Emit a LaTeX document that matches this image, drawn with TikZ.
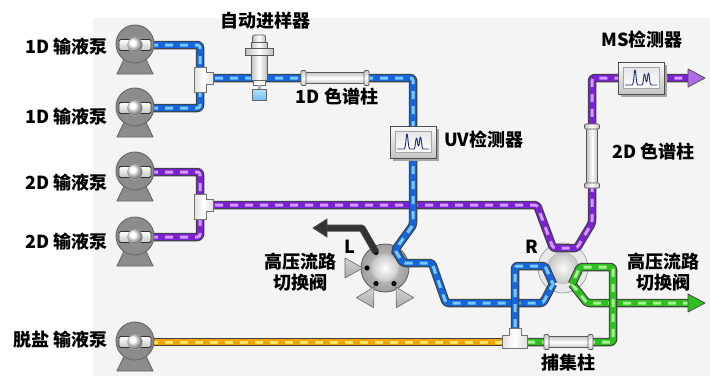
\documentclass[tikz,border=0pt]{standalone}
\usepackage{fontspec}
\setmainfont{Noto Sans CJK SC}
\usetikzlibrary{calc}

\definecolor{panel}{HTML}{F4F4F4}
\definecolor{bluedk}{HTML}{1466DC}
\definecolor{bluelt}{HTML}{7CC8FF}
\definecolor{purpdk}{HTML}{7A22D2}
\definecolor{purplt}{HTML}{D49CFF}
\definecolor{orgdk}{HTML}{F0A400}
\definecolor{orglt}{HTML}{FFE46A}
\definecolor{grndk}{HTML}{2EC01E}
\definecolor{grnlt}{HTML}{A6F294}
\definecolor{pumpgray}{HTML}{8C8C8C}
\definecolor{trace}{HTML}{1E2A78}
\definecolor{vialblue}{HTML}{6EC0F5}

\tikzset{
  tubeedge/.style={line width=8.5pt, draw=black!75, rounded corners=2.5pt, line join=round},
  tubecore/.style={line width=6.2pt, rounded corners=2.5pt, line join=round},
  tubedash/.style={line width=3pt, rounded corners=2.5pt, line join=round, dash pattern=on 8pt off 7pt},
  lbl/.style={font=\fontsize{18}{21}\selectfont\bfseries, inner sep=0pt, align=center},
  pumpbody/.style={fill=pumpgray, draw=black!60, line width=0.9pt},
  vmetal/.style={draw=black!65, line width=0.7pt, left color=gray!50, right color=gray!50, middle color=white},
  hmetal/.style={draw=black!65, line width=0.7pt, top color=gray!45, bottom color=gray!45, middle color=white},
  teestyle/.style={draw=black!55, line width=0.7pt, left color=gray!25, right color=gray!25, middle color=white},
  headstyle/.style={draw=black!70, line width=0.8pt, line join=round},
}

% a piece of tubing: dark rim, coloured core, light dashes
\newcommand\tubepath[3]{%
  \draw[tubeedge] #3;
  \draw[tubecore,draw=#1] #3;
  \draw[tubedash,draw=#2] #3;}

% pump: round head on a foot, with the rotor in the middle
\newcommand\pumpicon[1]{%
  \begin{scope}[shift={(#1)}]
    \draw[pumpbody] (-8,8) -- (-18,29) -- (18,29) -- (8,8) -- cycle;
    \draw[pumpbody] (0,-1) circle[radius=19];
    \draw[draw=black!80, line width=0.8pt, top color=white, bottom color=gray!45, rounded corners=1.5pt] (-16,-5.5) rectangle (16,5.5);
    \draw[draw=gray!60, line width=0.4pt, ball color=white] (0,0) circle[radius=7.5];
  \end{scope}}

% tee fitting with its branch to the right
\newcommand\teeright[1]{%
  \begin{scope}[shift={(#1)}]
    \draw[teestyle] (-6,-11) -- (6,-11) -- (6,-6) -- (13,-6) -- (13,6) -- (6,6) -- (6,14) -- (-6,14) -- cycle;
  \end{scope}}

% detector box with a chromatogram on its screen
\newcommand\detector[1]{%
  \begin{scope}[shift={(#1)}]
    \fill[black!35] (-20,-13) rectangle (26,19);
    \draw[draw=black!70, line width=1pt, top color=gray!5, bottom color=gray!45] (-23,-16) rectangle (23,16);
    \draw[draw=gray!70, line width=0.6pt, top color=gray!20, bottom color=white] (-18,-11) rectangle (18,10);
    \draw[trace, line width=0.9pt, line join=round]
      (-16,7) -- (-9,7) .. controls (-7,7) and (-7,-8) .. (-6,-8)
      .. controls (-5,-8) and (-5,7) .. (-3,7) -- (1,7)
      .. controls (2.5,7) and (2.5,-4) .. (3.5,-4)
      .. controls (4.5,-4) and (4.5,4) .. (5.5,4)
      .. controls (6.5,4) and (6.5,-5) .. (7.5,-5)
      .. controls (8.5,-5) and (8.5,7) .. (10,7) -- (16,7);
  \end{scope}}

\begin{document}
\begin{tikzpicture}[x=1pt, y=-1pt]
  \useasboundingbox (0,0) rectangle (710,376);
  \fill[white] (0,0) rectangle (710,376);
  \fill[panel] (93,18) rectangle (710,376);

  % positions
  \coordinate (p1) at (135,45);
  \coordinate (p2) at (135,108);
  \coordinate (p3) at (135,172);
  \coordinate (p4) at (135,237);
  \coordinate (p5) at (135,342);
  \coordinate (tee1) at (200,78);
  \coordinate (tee2) at (200,205);
  \coordinate (tee3) at (515,342);
  \coordinate (uv) at (413,142);
  \coordinate (ms) at (641,78);
  \coordinate (Lv) at (385,268);
  \coordinate (Rv) at (563,268);

  % switching valve L
  \draw[draw=black!65, line width=0.8pt, inner color=gray!40, outer color=gray!75] (Lv) circle[radius=24];
  \draw[draw=gray!55, line width=0.5pt, inner color=white, outer color=gray!45] (Lv) circle[radius=14];
  \foreach \a in {-60,-120,180,120,60}
    \fill[black] ($(Lv)+(\a:18)$) circle[radius=2.6];
  \foreach \tx/\ty/\ax/\ay/\bx/\by in {-22/0/-40/-10/-40/10, -11/19.05/-11.34/39.64/-28.66/29.64, 11/19.05/28.66/29.64/11.34/39.64}
    \draw[draw=black!60, line width=0.6pt, line join=round, top color=gray!35, bottom color=gray!65]
      ($(Lv)+(\tx,\ty)$) -- ($(Lv)+(\ax,\ay)$) -- ($(Lv)+(\bx,\by)$) -- cycle;
  % waste outlet of valve L
  \coordinate (Lout) at ($(Lv)+(-9,-15.6)$);
  \draw[line width=7pt, draw=black!75, line join=round] (Lout) -- (362,228) -- (326,228);
  \draw[line width=5pt, draw=gray!40!black, line join=round] (Lout) -- (362,228) -- (326,228);
  \draw[headstyle, fill=gray!40!black] (327,219) -- (313,228) -- (327,237) -- cycle;

  % switching valve R
  \draw[draw=gray!70, line width=0.8pt, fill=gray!18] (Rv) circle[radius=25];
  \draw[draw=gray!60, line width=0.5pt, inner color=gray!5, outer color=gray!45] (Rv) circle[radius=15.5];

  % 2D solvent line
  \tubepath{purpdk}{purplt}{($(p3)+(15,0)$) -| (tee2)}
  \tubepath{purpdk}{purplt}{($(p4)+(15,0)$) -| (tee2)}
  \tubepath{purpdk}{purplt}{(tee2) -- (537,205) -- (553,248) -- (577,248) -- (592,223) -- (592,78) -- (689,78)}
  \draw[headstyle, fill=purplt!60!purpdk] (688,69) -- (705,78) -- (688,87) -- cycle;

  % desalting line
  \tubepath{orgdk}{orglt}{($(p5)+(15,0)$) -- (tee3)}

  % 1D line
  \tubepath{bluedk}{bluelt}{($(p1)+(15,0)$) -| (tee1)}
  \tubepath{bluedk}{bluelt}{($(p2)+(15,0)$) -| (tee1)}
  \tubepath{bluedk}{bluelt}{(tee1) -- (413,78) -- (413,225) -- (395,250) -- (403,263) -- (432,263) -- (446,303) -- (543,303) -- (553,284)}
  \tubepath{bluedk}{bluelt}{(tee3) |- (545,266) -- (553,284)}

  % trap column loop and outlet
  \tubepath{grndk}{grnlt}{(572,284) -- (587,303) -- (689,303)}
  \tubepath{grndk}{grnlt}{(527,342) -- (613,342) -- (613,267) -- (580,267) -- (572,284)}
  \draw[headstyle, fill=grndk] (688,294) -- (705,303) -- (688,312) -- cycle;

  % pumps
  \foreach \p in {p1,p2,p3,p4,p5} {\pumpicon{\p}}

  % tees
  \teeright{tee1}
  \teeright{tee2}
  \begin{scope}[shift={(tee3)}]
    \draw[teestyle] (-13,-7) -- (-6,-7) -- (-6,-14) -- (6,-14) -- (6,-7) -- (12,-7) -- (12,6) -- (-13,6) -- cycle;
  \end{scope}

  % autosampler
  \draw[vmetal, rounded corners=2pt] (252.5,35) rectangle (265.5,43);
  \draw[vmetal] (251,42) rectangle (267,48);
  \draw[vmetal] (245,48) rectangle (273,55);
  \draw[vmetal] (251,55) rectangle (267,80);
  \draw[draw=black!60, line width=0.6pt, fill=white] (253,80) rectangle (265,85);
  \fill[gray!60] (257.5,85) rectangle (260.5,89);
  \draw[draw=black!60, line width=0.7pt, top color=vialblue!50, bottom color=vialblue] (252,89) rectangle (266,100);

  % columns
  \draw[hmetal] (305,72.5) rectangle (365,83.5);
  \draw[hmetal, rounded corners=1pt] (301,70.5) rectangle (306,85.5);
  \draw[hmetal, rounded corners=1pt] (364,70.5) rectangle (369,85.5);
  \draw[vmetal] (586.5,128) rectangle (597.5,184);
  \draw[vmetal, rounded corners=1pt] (584.5,124) rectangle (599.5,129);
  \draw[vmetal, rounded corners=1pt] (584.5,183) rectangle (599.5,188);
  \draw[hmetal] (548,336.5) rectangle (589,347.5);
  \draw[hmetal, rounded corners=1pt] (544,334.5) rectangle (549,349.5);
  \draw[hmetal, rounded corners=1pt] (588,334.5) rectangle (593,349.5);

  % detectors
  \detector{uv}
  \detector{ms}

  % labels
  \node[lbl, anchor=east] (lp1) at (108,47) {1D 输液泵};
  \node[lbl, anchor=east] (lp2) at (108,117) {1D 输液泵};
  \node[lbl, anchor=east] (lp3) at (108,183) {2D 输液泵};
  \node[lbl, anchor=east] (lp4) at (108,242) {2D 输液泵};
  \node[lbl, anchor=east] (lp5) at (108,340) {脱盐 输液泵};
  \node[lbl] (linj) at (265,21) {自动进样器};
  \node[lbl] (lcol1) at (337,97) {1D 色谱柱};
  \node[lbl, anchor=west] (luv) at (444,140) {UV检测器};
  \node[lbl] (lms) at (642,40) {MS检测器};
  \node[lbl, anchor=west] (lcol2) at (612,152) {2D 色谱柱};
  \node[lbl] (lL) at (350,247) {L};
  \node[lbl] (lR) at (532,247) {R};
  \node[lbl] (lvalveL) at (300,272) {高压流路\\切换阀};
  \node[lbl] (lvalveR) at (663,272) {高压流路\\切换阀};
  \node[lbl] (ltrap) at (568,363) {捕集柱};
\end{tikzpicture}
\end{document}
